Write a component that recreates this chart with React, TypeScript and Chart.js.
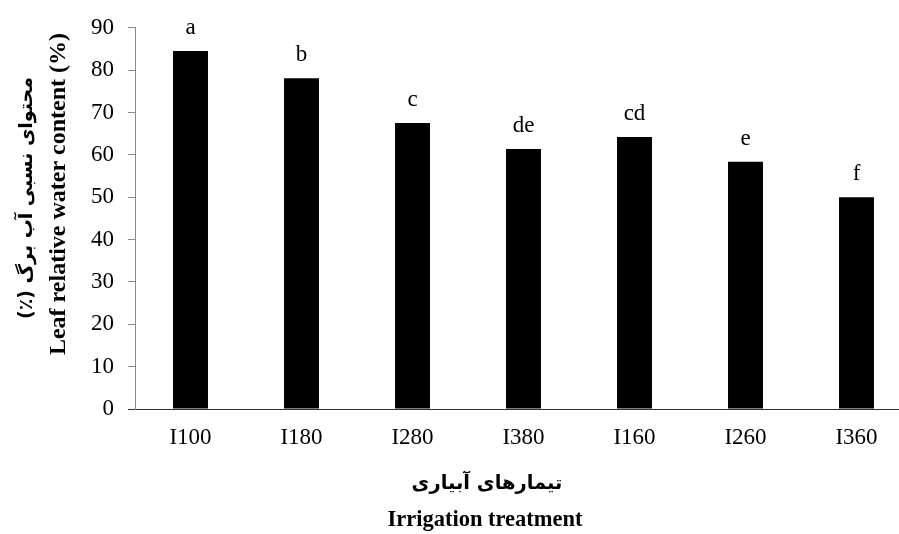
import React, { useEffect, useRef } from "react";
import { Chart, registerables } from "chart.js";

Chart.register(...registerables);

const categories = ["I100", "I180", "I280", "I380", "I160", "I260", "I360"];
const values = [84.5, 78.1, 67.5, 61.4, 64.2, 58.4, 50.0];
const letters = ["a", "b", "c", "de", "cd", "e", "f"];
const yTicks = [0, 10, 20, 30, 40, 50, 60, 70, 80, 90];
const yTitleFa = "محتوای نسبی آب برگ (٪)";
const yTitleEn = "Leaf relative water content (%)";
const xTitleFa = "تیمارهای آبیاری";
const xTitleEn = "Irrigation treatment";

const SERIF = "'Liberation Serif', 'Times New Roman', serif";
const FA = "'DejaVu Sans', 'Noto Sans', sans-serif";

const annotate = {
  id: "annotate",
  afterDatasetsDraw(chart: any) {
    const ctx = chart.ctx as CanvasRenderingContext2D;
    const meta = chart.getDatasetMeta(0);
    ctx.save();
    ctx.fillStyle = "#000";
    ctx.font = `23px ${SERIF}`;
    ctx.textAlign = "center";
    ctx.textBaseline = "alphabetic";
    meta.data.forEach((bar: any, i: number) => {
      ctx.fillText(letters[i], bar.x, bar.y - 17);
    });
    ctx.restore();

    // Y axis title (two lines, rotated)
    ctx.save();
    ctx.fillStyle = "#000";
    ctx.textAlign = "center";
    ctx.textBaseline = "middle";
    ctx.translate(59, 194);
    ctx.rotate(-Math.PI / 2);
    ctx.font = `bold 24px ${SERIF}`;
    ctx.fillText(yTitleEn, 0, 0);
    ctx.restore();

    ctx.save();
    ctx.fillStyle = "#000";
    ctx.textAlign = "center";
    ctx.textBaseline = "middle";
    (ctx as any).direction = "rtl";
    ctx.translate(27, 198);
    ctx.rotate(-Math.PI / 2);
    ctx.font = `bold 19px ${FA}`;
    ctx.fillText(yTitleFa, 0, 0);
    ctx.restore();

    // X axis title
    ctx.save();
    ctx.fillStyle = "#000";
    ctx.textAlign = "center";
    ctx.textBaseline = "middle";
    (ctx as any).direction = "rtl";
    ctx.font = `bold 19.5px ${FA}`;
    ctx.fillText(xTitleFa, 487, 484);
    ctx.restore();

    ctx.save();
    ctx.fillStyle = "#000";
    ctx.textAlign = "center";
    ctx.textBaseline = "middle";
    ctx.font = `bold 22.5px ${SERIF}`;
    ctx.fillText(xTitleEn, 485, 520);
    ctx.restore();
  },
};

export default function App() {
  const ref = useRef<HTMLCanvasElement | null>(null);

  useEffect(() => {
    if (!ref.current) return;
    const chart = new Chart(ref.current, {
      type: "bar",
      data: {
        labels: categories,
        datasets: [
          {
            data: values,
            backgroundColor: "#000",
            borderWidth: 0,
            barPercentage: 0.315,
            categoryPercentage: 1,
          },
        ],
      },
      options: {
        responsive: false,
        animation: false,
        devicePixelRatio: 1,
        layout: { padding: { top: 24, left: 0, right: 0, bottom: 0 } },
        plugins: {
          legend: { display: false },
          tooltip: { enabled: false },
        },
        scales: {
          x: {
            grid: { display: true, drawOnChartArea: false, drawTicks: false },
            border: { color: "#303030", width: 1 },
            ticks: {
              color: "#000",
              font: { family: SERIF, size: 23 },
              padding: 15,
              maxRotation: 0,
              autoSkip: false,
            },
            afterFit: (s: any) => {
              s.height = 125;
            },
          },
          y: {
            min: 0,
            max: 90,
            afterBuildTicks: (s: any) => {
              s.ticks = yTicks.map((v) => ({ value: v }));
            },
            ticks: {
              color: "#000",
              font: { family: SERIF, size: 23 },
              padding: 14,
            },
            grid: {
              drawOnChartArea: false,
              drawTicks: true,
              tickLength: 7,
              color: (c: any) => (c.tick && c.tick.value === 0 ? "#303030" : "#888"),
            },
            border: { color: "#888", width: 1 },
            afterFit: (s: any) => {
              s.width = 135;
            },
          },
        },
      },
      plugins: [annotate],
    });
    return () => chart.destroy();
  }, []);

  return (
    <div
      style={{
        position: "fixed",
        left: 0,
        top: 0,
        width: 899,
        height: 534,
        overflow: "hidden",
        background: "#fff",
      }}
    >
      <canvas ref={ref} width={912} height={534} style={{ display: "block" }} />
    </div>
  );
}
